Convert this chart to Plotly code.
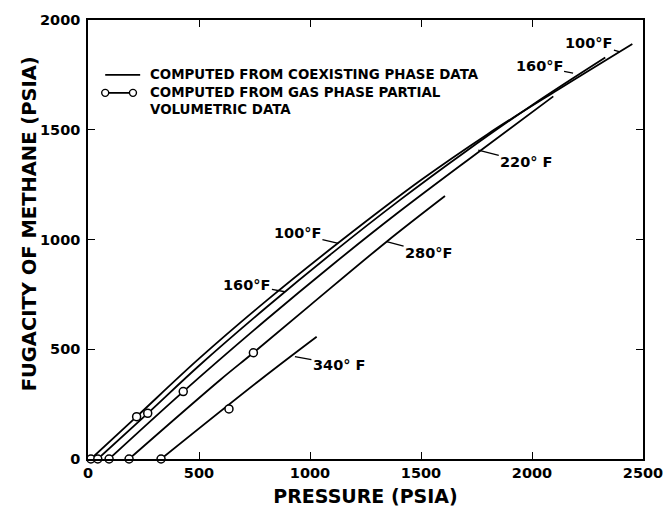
import plotly.graph_objects as go

# ---- data ----
P_100 = [13, 219, 500, 800, 1128, 1500, 1800, 2100, 2452]
F_100 = [0, 193, 457, 718, 985, 1271, 1480, 1672, 1891]

P_160 = [44, 269, 500, 800, 1100, 1400, 1700, 2000, 2330]
F_160 = [0, 208, 425, 688, 938, 1176, 1400, 1612, 1829]

P_220 = [95, 429, 800, 1100, 1400, 1761, 2096]
F_220 = [0, 307, 632, 884, 1125, 1400, 1652]

P_280 = [185, 595, 745, 1000, 1345, 1608]
F_280 = [0, 360, 484, 700, 990, 1198]

P_340 = [329, 775, 1030]
F_340 = [0, 360, 557]

# gas phase partial volumetric data points (circles)
C_100_P = [13, 219]
C_100_F = [0, 193]
C_160_P = [44, 269]
C_160_F = [0, 208]
C_220_P = [95, 429]
C_220_F = [0, 307]
C_280_P = [185, 745]
C_280_F = [0, 484]
C_340_P = [329, 635]
C_340_F = [0, 228]

X_TICKS = [0, 500, 1000, 1500, 2000, 2500]
Y_TICKS = [0, 500, 1000, 1500, 2000]

FONT = "DejaVu Sans"

fig = go.Figure()

curves = [(P_100, F_100), (P_160, F_160), (P_220, F_220), (P_280, F_280), (P_340, F_340)]
for px, fy in curves:
    fig.add_trace(go.Scatter(x=px, y=fy, mode="lines",
                             line=dict(color="black", width=1.8, shape="spline", smoothing=1.0),
                             showlegend=False, hoverinfo="skip"))

circles = [(C_100_P, C_100_F), (C_160_P, C_160_F), (C_220_P, C_220_F),
           (C_280_P, C_280_F), (C_340_P, C_340_F)]
for cx, cy in circles:
    fig.add_trace(go.Scatter(x=cx, y=cy, mode="markers", cliponaxis=False,
                             marker=dict(symbol="circle", size=8, color="white",
                                         line=dict(color="black", width=1.5)),
                             showlegend=False, hoverinfo="skip"))

# curve labels with hooks
labels = [
    ("100°F", 2396, 1855, -31, -9),
    ("160°F", 2185, 1758, -34, -7),
    ("220° F", 1758, 1407, 48, 12),
    ("100°F", 1128, 982, -41, -10),
    ("160°F", 887, 762, -38, -7),
    ("280°F", 1345, 990, 42, 11),
    ("340° F", 932, 466, 44, 8),
]
for txt, x, y, ax, ay in labels:
    fig.add_annotation(x=x, y=y, text=txt, showarrow=True, ax=ax, ay=ay,
                       arrowhead=0, arrowwidth=1.3, arrowcolor="black", standoff=0,
                       font=dict(family=FONT, size=14.5, color="black", weight="bold"))

# manual legend
fig.add_shape(type="line", xref="paper", yref="paper", x0=0.031, x1=0.094, y0=0.875, y1=0.875,
              line=dict(color="black", width=1.8))
fig.add_shape(type="line", xref="paper", yref="paper", x0=0.031, x1=0.081, y0=0.834, y1=0.834,
              line=dict(color="black", width=1.8))
for xc in (0.031, 0.081):
    fig.add_shape(type="circle", xref="paper", yref="paper", xsizemode="pixel", ysizemode="pixel",
                  xanchor=xc, yanchor=0.834, x0=-3.5, x1=3.5, y0=-3.5, y1=3.5,
                  line=dict(color="black", width=1.4), fillcolor="white")
leg_texts = [("COMPUTED FROM COEXISTING PHASE DATA", 0.875),
             ("COMPUTED FROM GAS PHASE PARTIAL", 0.834),
             ("VOLUMETRIC DATA", 0.795)]
for t, yy in leg_texts:
    fig.add_annotation(xref="paper", yref="paper", x=0.108, y=yy, text=t, showarrow=False,
                       xanchor="left", yanchor="middle",
                       font=dict(family=FONT, size=13.4, color="black", weight="bold"))

# y axis title (placed to match the original position)
fig.add_annotation(xref="paper", yref="paper", x=-0.106, y=0.535, text="FUGACITY OF METHANE (PSIA)",
                   textangle=-90, showarrow=False, xanchor="center", yanchor="middle",
                   font=dict(family=FONT, size=19.5, color="black", weight="bold"))

axis_common = dict(showline=True, linecolor="black", linewidth=1.5, mirror="ticks",
                   ticks="inside", ticklen=7, tickwidth=1.3, tickcolor="black",
                   showgrid=False, zeroline=False, automargin=False,
                   tickfont=dict(family=FONT, size=14.5, color="black", weight="bold"))

fig.update_xaxes(range=[0, 2500], tickvals=X_TICKS, ticktext=[str(v) for v in X_TICKS],
                 ticklabeloverflow="allow",
                 title=dict(text="PRESSURE (PSIA)",
                            font=dict(family=FONT, size=19, color="black", weight="bold"),
                            standoff=10),
                 **axis_common)
fig.update_yaxes(range=[0, 2000], tickvals=Y_TICKS, ticktext=[str(v) for v in Y_TICKS],
                 ticklabelstandoff=3,
                 **axis_common)

fig.update_layout(width=663, height=513, margin=dict(l=88, r=20, t=20, b=54),
                  plot_bgcolor="white", paper_bgcolor="white",
                  font=dict(family=FONT, color="black"))

fig.write_html("out.html")
